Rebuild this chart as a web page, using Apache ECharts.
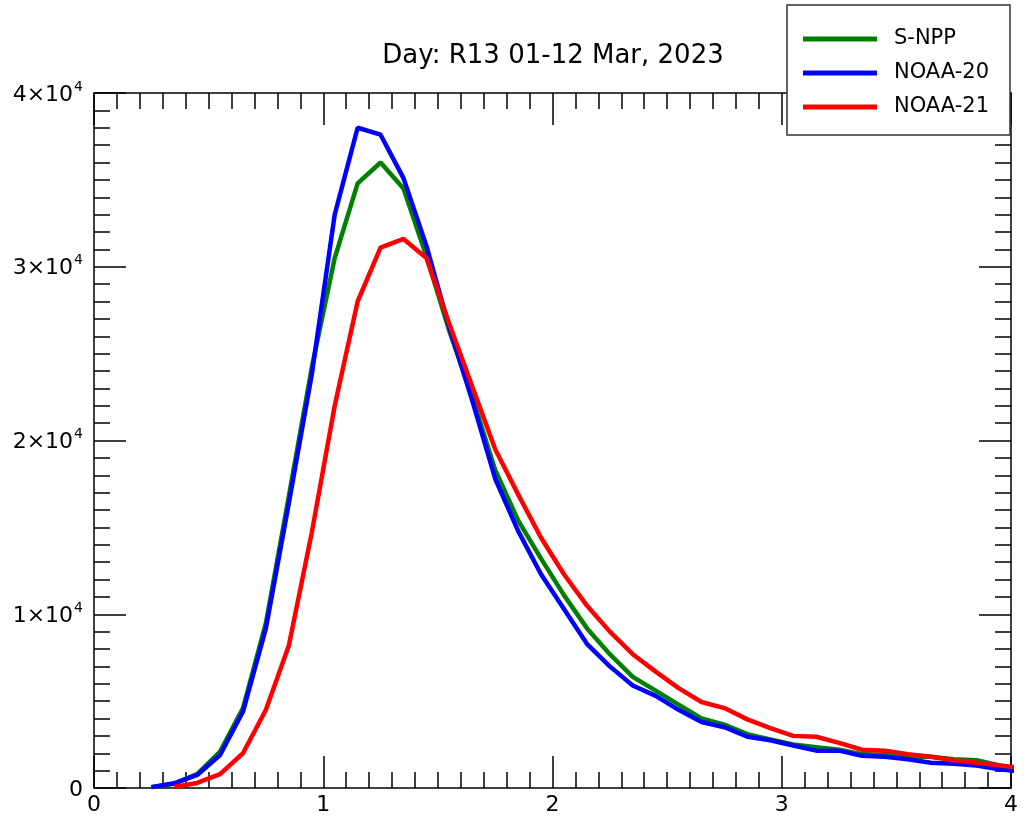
<!DOCTYPE html>
<html>
<head>
<meta charset="utf-8">
<script src="https://cdn.jsdelivr.net/npm/echarts@6/dist/echarts.min.js"></script>
<style>
html,body{margin:0;padding:0;background:#fff;}
#chart{width:1024px;height:818px;}
</style>
</head>
<body>
<div id="chart"></div>
<script>
const titleText = 'Day: R13 01-12 Mar, 2023';
const seriesNames = ['S-NPP', 'NOAA-20', 'NOAA-21'];
const xValues = [0.25,0.35,0.45,0.55,0.65,0.75,0.85,0.95,1.05,1.15,1.25,1.35,1.45,1.55,1.65,1.75,1.85,1.95,2.05,2.15,2.25,2.35,2.45,2.55,2.65,2.75,2.85,2.95,3.05,3.15,3.25,3.35,3.45,3.55,3.65,3.75,3.85,3.95,4.05];
const snpp = [50,250,800,2100,4600,9500,16800,24200,30500,34800,36000,34500,30600,26300,22500,18300,15400,13200,11100,9200,7700,6400,5600,4800,4000,3650,3100,2800,2500,2350,2200,1950,1900,1800,1800,1650,1600,1300,1050];
const noaa20 = [50,270,750,1900,4400,9200,16400,23800,33000,38000,37600,35100,31200,26500,22300,17800,14800,12300,10300,8300,7000,5900,5300,4500,3800,3500,2950,2750,2450,2150,2150,1850,1800,1650,1450,1400,1300,1080,950];
const noaa21 = [null,60,290,800,2000,4500,8200,14700,22000,28000,31100,31600,30500,26700,23100,19500,16900,14400,12300,10500,9000,7700,6700,5750,4950,4600,3950,3450,3000,2950,2600,2200,2150,1950,1800,1600,1450,1300,1150];
const xTicks = [0,1,2,3,4];
const yTicks = [0,10000,20000,30000,40000];
const colors = ['#008000', '#0000ff', '#ff0000'];

const FONT = 'DejaVu Sans';
const chart = echarts.init(document.getElementById('chart'), null, {renderer:'canvas'});

function pairs(arr){ return xValues.map((x,i)=>[x, arr[i]]); }

const tickStyle = {color:'#000', width:1.5};
function xAxisCfg(pos, showLabel){
  return {
    type:'value', min:xTicks[0], max:xTicks[xTicks.length-1], interval:1, position:pos,
    axisLine:{show:true, onZero:false, lineStyle:{color:'#000', width:1.5}},
    axisTick:{show:true, inside:true, length:32, lineStyle:tickStyle},
    minorTick:{show:true, splitNumber:10, length:16, lineStyle:tickStyle},
    splitLine:{show:false}, minorSplitLine:{show:false},
    axisLabel:{show:showLabel, fontSize:22, color:'#000', fontFamily:FONT, margin:6}
  };
}
function yAxisCfg(pos, showLabel){
  return {
    type:'value', min:yTicks[0], max:yTicks[yTicks.length-1], interval:10000, position:pos,
    axisLine:{show:true, onZero:false, lineStyle:{color:'#000', width:1.5}},
    axisTick:{show:true, inside:true, length:32, lineStyle:tickStyle},
    minorTick:{show:true, splitNumber:10, length:16, lineStyle:tickStyle},
    splitLine:{show:false}, minorSplitLine:{show:false},
    axisLabel:{show:showLabel, margin:11, color:'#000', fontFamily:FONT, fontSize:22,
      formatter:function(v){ if(v===0) return '{m|0}'; return '{m|' + (v/10000) + '×10}{s|4}'; },
      rich:{
        m:{fontSize:22, fontFamily:FONT, color:'#000', lineHeight:26, verticalAlign:'bottom'},
        s:{fontSize:14, fontFamily:FONT, color:'#000', lineHeight:14, verticalAlign:'top', padding:[0,0,0,1]}
      }
    }
  };
}

const series = [snpp, noaa20, noaa21].map((arr, i) => ({
  name: seriesNames[i], type:'line', data: pairs(arr), xAxisIndex:0, yAxisIndex:0,
  showSymbol:false, symbol:'none', clip:true, connectNulls:false,
  lineStyle:{color:colors[i], width:4.5}, itemStyle:{color:colors[i]}, z:2, animation:false
}));

chart.setOption({
  animation:false,
  backgroundColor:'#fff',
  textStyle:{fontFamily:FONT},
  grid:{left:94, right:13, top:93, bottom:30, containLabel:false},
  xAxis:[xAxisCfg('bottom', true), xAxisCfg('top', false)],
  yAxis:[yAxisCfg('left', true), yAxisCfg('right', false)],
  legend:{
    show:true, orient:'vertical', left:803, top:27, padding:0,
    data:seriesNames, icon:'rect', itemWidth:74, itemHeight:5, itemGap:10,
    textStyle:{fontSize:21, color:'#000', fontFamily:FONT, lineHeight:24, padding:[0,0,0,12]},
    z:20, selectedMode:false
  },
  graphic:[
    {type:'rect', z:15, shape:{x:787, y:5, width:223, height:130}, style:{fill:'#fff', stroke:'#333', lineWidth:1.5}},
    {type:'text', z:15, x:553, y:56, style:{text:titleText, fontSize:26, fontFamily:FONT, fill:'#000', align:'center', verticalAlign:'middle'}}
  ],
  series: series
});
</script>
</body>
</html>
